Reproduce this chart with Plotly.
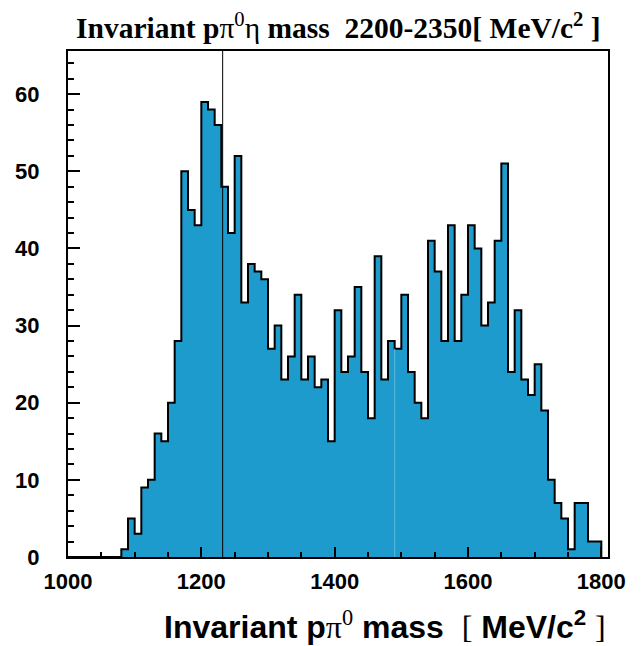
import plotly.graph_objects as go

# Histogram of the p pi0 invariant mass, 10 MeV bins from 1000 to 1800 MeV/c^2
bin_low = list(range(1000, 1800, 10))
counts = [
    0, 0, 0, 0, 0, 0, 0, 0,
    1, 5, 3, 9, 10, 16, 15, 20, 28, 50,
    45, 43, 59, 58, 56, 48, 42, 52, 33, 38,
    37, 36, 27, 30, 23, 26, 34, 23, 26, 22,
    23, 15, 32, 24, 26, 35, 24, 18, 39, 23,
    28, 27, 34, 24, 20, 18, 41, 37, 28, 43,
    28, 34, 43, 40, 30, 33, 41, 51, 24, 32,
    23, 21, 25, 19, 10, 7, 5, 1, 7, 7,
    2, 2,
]
bin_width = 10
delta_mass = 1232  # marker line position, MeV/c^2
seam_bin = 1490

x_ticks = [1000, 1200, 1400, 1600, 1800]
y_ticks = [0, 10, 20, 30, 40, 50, 60]

fill_color = "#1e9bcd"

# step outline: left edges with their counts, then close at the last edge
step_x = bin_low + [bin_low[-1] + bin_width, bin_low[-1] + bin_width]
step_y = counts + [counts[-1], 0]

fig = go.Figure()
fig.add_trace(go.Scatter(
    x=step_x, y=step_y, mode="lines", line_shape="hv",
    line=dict(color="black", width=2),
    fill="tozeroy", fillcolor=fill_color,
    hoverinfo="skip", showlegend=False,
))

# faint seam inside the filled area
seam_h = counts[bin_low.index(seam_bin)]
fig.add_shape(type="line", x0=seam_bin, x1=seam_bin, y0=0, y1=seam_h,
              xref="x", yref="y", line=dict(color="#5cb8de", width=1), layer="above")

# vertical reference line through the full frame
fig.add_shape(type="line", x0=delta_mass, x1=delta_mass, y0=0, y1=1,
              xref="x", yref="paper", line=dict(color="black", width=1), layer="above")

tick_font = dict(family="Liberation Sans", size=22, color="black", weight="bold")

fig.update_xaxes(
    range=[1000, 1810], tickmode="array", tickvals=x_ticks,
    ticktext=[str(v) for v in x_ticks],
    ticks="inside", ticklen=10, tickwidth=1.5, tickcolor="black",
    minor=dict(dtick=50, tick0=1000, ticks="inside", ticklen=5, tickwidth=1.5, tickcolor="black"),
    showline=True, linecolor="black", linewidth=2, mirror=True,
    showgrid=False, zeroline=False, tickfont=tick_font, ticklabelstandoff=4,
)
fig.update_yaxes(
    range=[0, 65.6], tickmode="array", tickvals=y_ticks,
    ticktext=[str(v) for v in y_ticks],
    ticks="inside", ticklen=12, tickwidth=1.5, tickcolor="black",
    minor=dict(dtick=2, tick0=0, ticks="inside", ticklen=6, tickwidth=1.5, tickcolor="black"),
    showline=True, linecolor="black", linewidth=2, mirror=True,
    showgrid=False, zeroline=False, tickfont=tick_font, ticklabelstandoff=22,
)

serif = "font-family:'Liberation Serif'"
title_text = (
    "<b>Invariant p</b>&#960;<sup>0</sup>&#951;<b> mass&nbsp;&nbsp;2200-2350[ MeV/c<sup>2</sup> ]</b>"
)
xlabel_text = (
    "<b>Invariant p</b><span style=\"" + serif + "\">&#960;<sup>0</sup></span>"
    "<b>&nbsp;mass</b>&nbsp;&nbsp;<span style=\"" + serif + "\">[</span>"
    "<b>&nbsp;MeV/c<sup>2</sup>&nbsp;</b><span style=\"" + serif + "\">]</span>"
)

fig.add_annotation(
    text=title_text, xref="paper", yref="paper", x=0.5, y=1.0, yshift=5,
    xanchor="center", yanchor="bottom", showarrow=False,
    font=dict(family="Liberation Serif", size=29.5, color="black"),
)
fig.add_annotation(
    text=xlabel_text, xref="paper", yref="paper", x=1.0, y=0.0, yshift=-46,
    xanchor="right", yanchor="top", showarrow=False,
    font=dict(family="Liberation Sans", size=32, color="black"),
)

fig.update_layout(
    width=644, height=646,
    margin=dict(l=68, r=36, t=51, b=89),
    paper_bgcolor="white", plot_bgcolor="white",
    showlegend=False,
)

fig.write_html("out.html")
